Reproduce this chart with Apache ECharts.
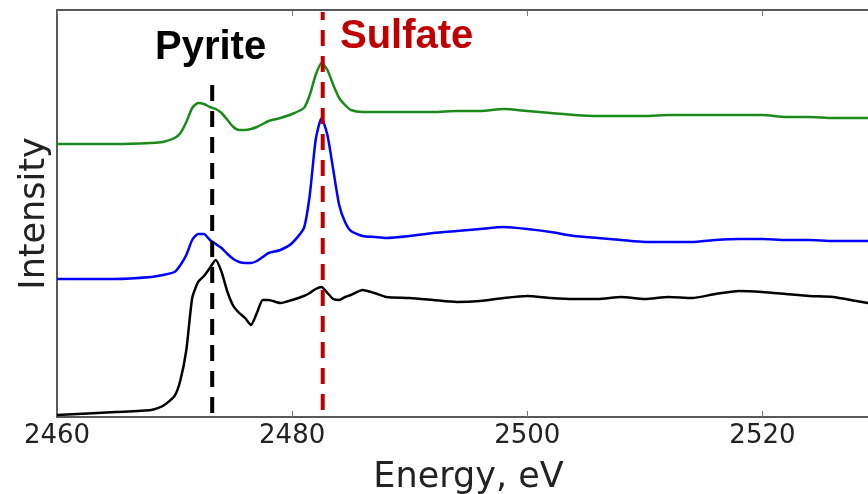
<!DOCTYPE html>
<html>
<head>
<meta charset="utf-8">
<script src="https://cdn.jsdelivr.net/npm/echarts@6/dist/echarts.min.js"></script>
<style>
  html, body { margin: 0; padding: 0; background: #fff; }
  #main { width: 868px; height: 494px; }
</style>
</head>
<body>
<div id="main"></div>
<script>
// photon energy grid, eV
var energy = [2460, 2465, 2468, 2469, 2470, 2470.5, 2471, 2471.5, 2472, 2472.5,
  2473, 2473.5, 2474, 2474.5, 2475, 2475.5, 2476, 2476.5, 2477, 2477.5,
  2478, 2479, 2480, 2481, 2481.5, 2482, 2482.5, 2483, 2483.5, 2484,
  2484.5, 2485, 2486, 2487, 2488, 2490, 2492, 2494, 2496, 2498,
  2500, 2502, 2504, 2506, 2508, 2510, 2512, 2514, 2516, 2518,
  2520, 2522, 2524, 2526, 2528, 2530];

// spectra (arbitrary units, stacked with offsets)
var greenSpectrum = [2.73, 2.73, 2.74, 2.75, 2.79, 2.84, 2.95, 3.09, 3.14, 3.13,
  3.10, 3.08, 3.04, 2.97, 2.90, 2.87, 2.87, 2.88, 2.90, 2.93,
  2.96, 2.99, 3.03, 3.09, 3.22, 3.42, 3.54, 3.47, 3.32, 3.19,
  3.12, 3.07, 3.05, 3.05, 3.05, 3.05, 3.05, 3.06, 3.06, 3.08,
  3.06, 3.04, 3.02, 3.01, 3.01, 3.01, 3.02, 3.02, 3.02, 3.02,
  3.02, 3.00, 3.00, 2.99, 2.99, 2.99];
var blueSpectrum = [1.38, 1.38, 1.40, 1.42, 1.45, 1.52, 1.62, 1.77, 1.83, 1.83,
  1.77, 1.73, 1.69, 1.63, 1.58, 1.55, 1.54, 1.54, 1.56, 1.60,
  1.64, 1.67, 1.74, 1.89, 2.22, 2.77, 2.99, 2.82, 2.47, 2.12,
  1.95, 1.86, 1.81, 1.80, 1.79, 1.81, 1.84, 1.86, 1.88, 1.90,
  1.88, 1.85, 1.81, 1.79, 1.77, 1.75, 1.75, 1.75, 1.77, 1.78,
  1.78, 1.77, 1.77, 1.76, 1.76, 1.76];
var blackSpectrum = [0.02, 0.05, 0.07, 0.11, 0.21, 0.37, 0.67, 1.19, 1.35, 1.41,
  1.49, 1.57, 1.45, 1.25, 1.11, 1.04, 0.99, 0.92, 1.04, 1.17,
  1.17, 1.14, 1.17, 1.21, 1.24, 1.28, 1.30, 1.24, 1.18, 1.17,
  1.20, 1.22, 1.27, 1.24, 1.20, 1.19, 1.17, 1.15, 1.16, 1.19,
  1.21, 1.19, 1.18, 1.18, 1.20, 1.18, 1.20, 1.19, 1.23, 1.26,
  1.25, 1.23, 1.21, 1.20, 1.16, 1.12];

// reference energies and the span of their dashed lines
var pyriteEnergy = 2473.2;
var pyriteSpan = [0.04, 3.39];
var sulfateEnergy = 2482.6;
var sulfateSpan = [0.07, 4.05];

var xTicks = [2460, 2480, 2500, 2520];

function pairs(xs, ys) {
  return xs.map(function (x, i) { return [x, ys[i]]; });
}

function spectrum(name, color, values) {
  return {
    name: name,
    type: 'line',
    data: pairs(energy, values),
    smooth: 0.2,
    symbol: 'none',
    lineStyle: { color: color, width: 2.5 },
    z: 3
  };
}

function marker(color, e, span) {
  return {
    type: 'line',
    data: [[e, span[0]], [e, span[1]]],
    symbol: 'none',
    lineStyle: { color: color, width: 4, type: [16, 10] },
    z: 4
  };
}

var myChart = echarts.init(document.getElementById('main'));
myChart.setOption({
  animation: false,
  textStyle: { fontFamily: 'DejaVu Sans' },
  // plot runs past the right edge of the picture (cropped at ~2529 eV)
  grid: { left: 57, top: 10, width: 823, height: 407, outerBoundsMode: 'none' },
  xAxis: [{
    type: 'value',
    min: 2460,
    max: 2530,
    interval: 20,
    name: 'Energy, eV',
    nameLocation: 'middle',
    nameGap: 43,
    nameTextStyle: { fontSize: 35, color: '#222' },
    axisLine: { lineStyle: { color: '#222', width: 1.5 } },
    axisTick: { inside: true, length: 6, lineStyle: { color: '#777' } },
    axisLabel: {
      fontSize: 26, color: '#222', margin: 6,
      formatter: function (v) { return xTicks.indexOf(v) >= 0 ? String(v) : ''; }
    },
    splitLine: { show: false }
  }, {
    type: 'value',
    position: 'top',
    min: 2460,
    max: 2530,
    interval: 20,
    axisLine: { show: true, lineStyle: { color: '#222', width: 1.5 } },
    axisTick: { inside: true, length: 6, lineStyle: { color: '#777' } },
    axisLabel: { show: false },
    splitLine: { show: false }
  }],
  yAxis: {
    type: 'value',
    min: 0,
    max: 4.07,
    name: 'Intensity',
    nameLocation: 'middle',
    nameGap: 5,
    nameTextStyle: { fontSize: 35, color: '#222' },
    axisLine: { show: true, lineStyle: { color: '#222', width: 1.5 } },
    axisTick: { show: false },
    axisLabel: { show: false },
    splitLine: { show: false }
  },
  graphic: [{
    type: 'text',
    left: 155,
    top: 28,
    style: { text: 'Pyrite', fill: '#000', font: 'bold 40px "Liberation Sans"' }
  }, {
    type: 'text',
    left: 340,
    top: 17,
    style: { text: 'Sulfate', fill: '#c00000', font: 'bold 40px "Liberation Sans"' }
  }],
  series: [
    spectrum('green', '#1a8a1a', greenSpectrum),
    spectrum('blue', '#0000ff', blueSpectrum),
    spectrum('black', '#000000', blackSpectrum),
    marker('#000000', pyriteEnergy, pyriteSpan),
    marker('#c00000', sulfateEnergy, sulfateSpan)
  ]
});
</script>
</body>
</html>
